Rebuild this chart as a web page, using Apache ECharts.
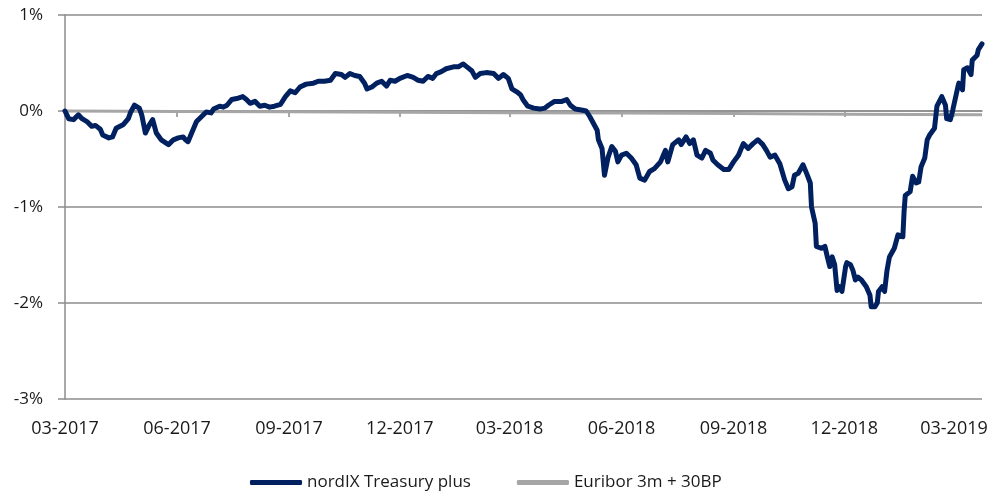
<!DOCTYPE html>
<html>
<head>
<meta charset="utf-8">
<script src="https://cdn.jsdelivr.net/npm/echarts@6/dist/echarts.min.js"></script>
<style>
html,body{margin:0;padding:0;background:#fff;}
#chart{width:993px;height:493px;}
</style>
</head>
<body>
<div id="chart"></div>
<script>
// ---- data (values in %) ----
const nordixDates = [
'2017-03-01','2017-03-04','2017-03-08','2017-03-12','2017-03-15','2017-03-19','2017-03-23','2017-03-26','2017-03-30',
'2017-04-01','2017-04-06','2017-04-09','2017-04-12','2017-04-18','2017-04-22','2017-04-24','2017-04-27',
'2017-05-01','2017-05-03','2017-05-06','2017-05-09','2017-05-12','2017-05-15','2017-05-19','2017-05-25','2017-05-29',
'2017-06-02','2017-06-06','2017-06-08','2017-06-10','2017-06-13','2017-06-17','2017-06-21','2017-06-25','2017-06-29',
'2017-07-01','2017-07-06','2017-07-09','2017-07-12','2017-07-16','2017-07-20','2017-07-25','2017-07-28','2017-07-31',
'2017-08-04','2017-08-08','2017-08-12','2017-08-16','2017-08-20','2017-08-25','2017-08-29',
'2017-09-02','2017-09-06','2017-09-10','2017-09-15','2017-09-21','2017-09-25','2017-09-30',
'2017-10-05','2017-10-09','2017-10-14','2017-10-17','2017-10-21','2017-10-25','2017-10-29',
'2017-11-02','2017-11-04','2017-11-08','2017-11-12','2017-11-16','2017-11-20','2017-11-23','2017-11-27',
'2017-12-01','2017-12-07','2017-12-12','2017-12-16','2017-12-20','2017-12-24','2017-12-28','2017-12-31',
'2018-01-04','2018-01-08','2018-01-14','2018-01-18','2018-01-22','2018-01-25','2018-01-29',
'2018-02-01','2018-02-05','2018-02-10','2018-02-16','2018-02-20','2018-02-24','2018-02-28',
'2018-03-03','2018-03-07','2018-03-10','2018-03-12','2018-03-16','2018-03-21','2018-03-26','2018-03-30',
'2018-04-02','2018-04-07','2018-04-13','2018-04-17','2018-04-20','2018-04-24','2018-04-29',
'2018-05-03','2018-05-06','2018-05-09','2018-05-12','2018-05-13','2018-05-16','2018-05-18','2018-05-21','2018-05-24','2018-05-27','2018-05-29',
'2018-06-01','2018-06-05','2018-06-09','2018-06-13','2018-06-16','2018-06-20','2018-06-24','2018-06-28',
'2018-07-03','2018-07-07','2018-07-09','2018-07-13','2018-07-18','2018-07-20','2018-07-24','2018-07-27','2018-07-30',
'2018-08-02','2018-08-06','2018-08-09','2018-08-13','2018-08-15','2018-08-19','2018-08-24','2018-08-28',
'2018-09-01','2018-09-05','2018-09-09','2018-09-13','2018-09-17','2018-09-21','2018-09-25','2018-09-28',
'2018-10-01','2018-10-05','2018-10-09','2018-10-13','2018-10-16','2018-10-19','2018-10-21','2018-10-24','2018-10-28','2018-10-31',
'2018-11-03','2018-11-04','2018-11-07','2018-11-08','2018-11-12','2018-11-15','2018-11-17','2018-11-19','2018-11-21','2018-11-23','2018-11-25','2018-11-27','2018-11-29',
'2018-12-02','2018-12-03','2018-12-06','2018-12-08','2018-12-10','2018-12-12','2018-12-15','2018-12-19','2018-12-22','2018-12-23','2018-12-26','2018-12-28','2018-12-29',
'2019-01-01','2019-01-03','2019-01-04','2019-01-05','2019-01-07','2019-01-11','2019-01-14','2019-01-18','2019-01-19','2019-01-20','2019-01-24','2019-01-26','2019-01-29','2019-01-31',
'2019-02-02','2019-02-05','2019-02-07','2019-02-09','2019-02-13','2019-02-15','2019-02-19','2019-02-22','2019-02-23','2019-02-26','2019-02-28',
'2019-03-04','2019-03-05','2019-03-08','2019-03-09','2019-03-12','2019-03-15','2019-03-16','2019-03-20','2019-03-21','2019-03-24'
];
const nordixValues = [
0.00,-0.08,-0.09,-0.04,-0.08,-0.11,-0.16,-0.15,-0.19,
-0.25,-0.28,-0.27,-0.18,-0.14,-0.08,-0.01,0.06,
0.03,-0.04,-0.23,-0.15,-0.09,-0.23,-0.30,-0.35,-0.30,
-0.28,-0.27,-0.30,-0.32,-0.23,-0.11,-0.06,-0.01,-0.02,
0.02,0.05,0.04,0.06,0.12,0.13,0.15,0.12,0.08,
0.10,0.05,0.06,0.04,0.05,0.07,0.15,
0.21,0.19,0.25,0.28,0.29,0.31,0.31,
0.32,0.39,0.38,0.35,0.39,0.37,0.36,
0.29,0.23,0.25,0.29,0.31,0.26,0.32,0.31,
0.34,0.37,0.35,0.32,0.31,0.36,0.34,0.39,
0.41,0.44,0.46,0.46,0.49,0.46,0.42,
0.35,0.39,0.40,0.39,0.34,0.38,0.34,
0.23,0.20,0.17,0.12,0.05,0.03,0.02,0.03,
0.06,0.10,0.10,0.12,0.06,0.02,0.01,
0.00,-0.06,-0.13,-0.20,-0.30,-0.39,-0.67,-0.48,-0.37,-0.42,-0.53,
-0.46,-0.44,-0.49,-0.56,-0.70,-0.72,-0.63,-0.60,
-0.53,-0.41,-0.53,-0.35,-0.30,-0.35,-0.27,-0.34,-0.30,
-0.46,-0.49,-0.41,-0.44,-0.51,-0.56,-0.61,-0.61,
-0.53,-0.46,-0.34,-0.39,-0.34,-0.30,-0.35,-0.41,
-0.48,-0.46,-0.55,-0.72,-0.81,-0.79,-0.67,-0.65,-0.56,-0.65,
-0.75,-1.00,-1.17,-1.41,-1.43,-1.41,-1.52,-1.62,-1.52,-1.60,-1.87,-1.83,-1.88,
-1.62,-1.58,-1.60,-1.66,-1.76,-1.73,-1.76,-1.83,-1.92,-2.04,-2.04,-2.00,-1.88,
-1.83,-1.88,-1.90,-1.66,-1.52,-1.43,-1.29,-1.31,-1.05,-0.88,-0.84,-0.68,-0.75,-0.74,
-0.58,-0.49,-0.30,-0.25,-0.18,0.05,0.15,0.06,-0.08,-0.09,0.01,
0.24,0.29,0.22,0.43,0.45,0.38,0.53,0.58,0.64,0.70
];
const euriborDates = ['2017-03-01','2017-06-01','2017-09-01','2017-12-01','2018-03-01','2018-06-01','2018-09-01','2018-12-01','2019-03-24'];
const euriborValues = [0.000,-0.004,-0.008,-0.012,-0.017,-0.022,-0.027,-0.033,-0.040];
const tickDates = ['2017-03-01','2017-06-01','2017-09-01','2017-12-01','2018-03-01','2018-06-01','2018-09-01','2018-12-01','2019-03-01'];
const tickLabels = ['03-2017','06-2017','09-2017','12-2017','03-2018','06-2018','09-2018','12-2018','03-2019'];
const axisStart = '2017-03-01';
const axisEnd = '2019-03-24';
const yMin = -3, yMax = 1, yStep = 1;

// ---- helpers ----
function ts(s){ const p = s.split('-').map(Number); return Date.UTC(p[0], p[1]-1, p[2]); }
const tickTs = tickDates.map(ts);
const labelMap = {}; tickTs.forEach((t,i)=>{ labelMap[t] = tickLabels[i]; });

const FONT = 'Open Sans';
const TXT = '#1a1a1a';
const GRID = '#8c8c8c';
const NAVY = '#002060';
const GREY = '#a6a6a6';

const chart = echarts.init(document.getElementById('chart'));
chart.setOption({
  animation: false,
  textStyle: { fontFamily: FONT },
  grid: { left: 65, right: 11, top: 15, bottom: 94, containLabel: false },
  legend: {
    left: 245, top: 469,
    itemGap: 46, itemWidth: 52, itemHeight: 5,
    textStyle: { fontFamily: FONT, fontSize: 17, color: TXT },
    data: [
      { name: 'nordIX Treasury plus', icon: 'roundRect', itemStyle: { color: NAVY } },
      { name: 'Euribor 3m + 30BP', icon: 'roundRect', itemStyle: { color: GREY } }
    ]
  },
  xAxis: [
    {
      type: 'value', min: ts(axisStart), max: ts(axisEnd),
      axisLine: { show: true, onZero: true, lineStyle: { color: GRID, width: 1.5 } },
      axisTick: { show: true, customValues: tickTs, length: 6, inside: false, lineStyle: { color: GRID, width: 1.5 } },
      axisLabel: { show: false },
      splitLine: { show: false }
    },
    {
      type: 'value', min: ts(axisStart), max: ts(axisEnd), position: 'bottom',
      axisLine: { show: false, onZero: false },
      axisTick: { show: false },
      splitLine: { show: false },
      axisLabel: {
        show: true, customValues: tickTs, margin: 21, showMinLabel: true, showMaxLabel: true,
        fontFamily: FONT, fontSize: 18, color: TXT,
        formatter: v => labelMap[v] || ''
      }
    }
  ],
  yAxis: {
    type: 'value', min: yMin, max: yMax, interval: yStep,
    axisLine: { show: true, lineStyle: { color: GRID, width: 1.5 } },
    axisTick: { show: true, length: 7, lineStyle: { color: GRID, width: 1.5 } },
    axisLabel: { margin: 22, fontFamily: FONT, fontSize: 17, color: TXT, formatter: '{value}%' },
    splitLine: { show: true, lineStyle: { color: GRID, width: 1.5 } }
  },
  series: [
    {
      name: 'nordIX Treasury plus', type: 'line', xAxisIndex: 0, z: 4,
      data: nordixDates.map((d,i)=>[ts(d), nordixValues[i]]),
      showSymbol: false, symbol: 'none',
      lineStyle: { color: NAVY, width: 5, join: 'round', cap: 'round' },
      itemStyle: { color: NAVY }
    },
    {
      name: 'Euribor 3m + 30BP', type: 'line', xAxisIndex: 0, z: 3,
      data: euriborDates.map((d,i)=>[ts(d), euriborValues[i]]),
      showSymbol: false, symbol: 'none',
      lineStyle: { color: GREY, width: 3 },
      itemStyle: { color: GREY }
    }
  ]
});
</script>
</body>
</html>
